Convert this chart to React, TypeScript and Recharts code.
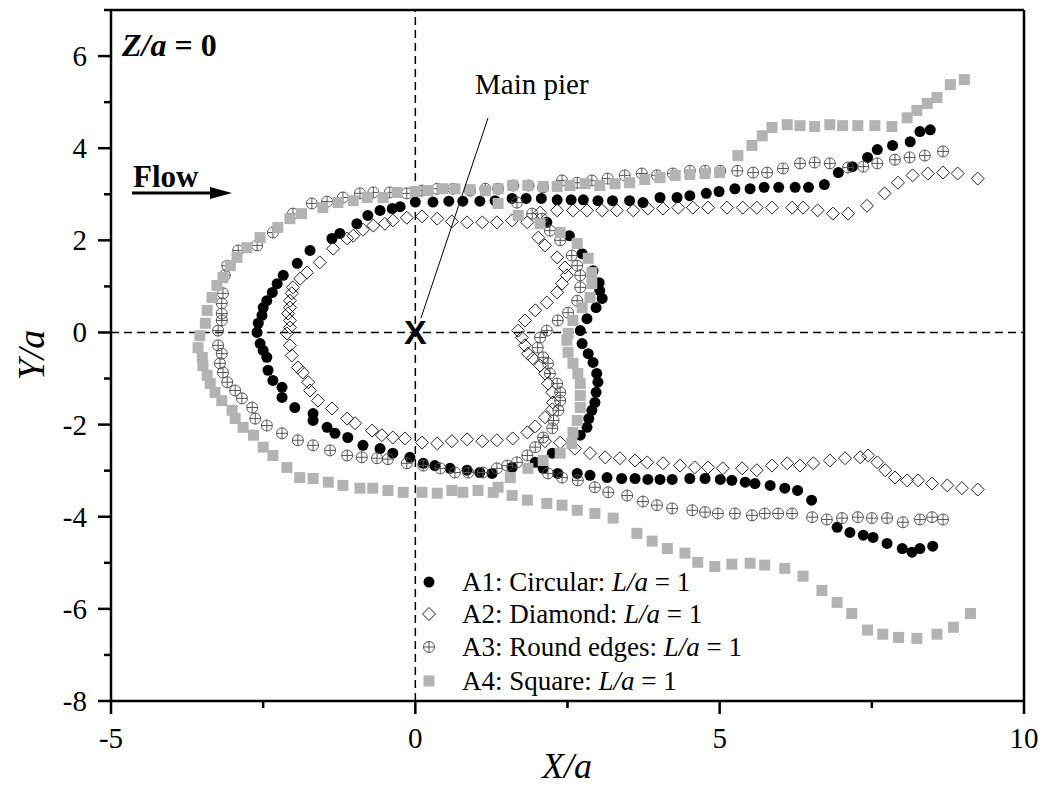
import { ScatterChart, Scatter, XAxis, YAxis, ReferenceLine, ReferenceDot } from "recharts"

const serif = "'Liberation Serif', 'Times New Roman', serif"

const xTicks = [-5, -2.5, 0, 2.5, 5, 7.5, 10]
const xLabels = [-5, 0, 5, 10]
const yTicks = [-8, -7, -6, -5, -4, -3, -2, -1, 0, 1, 2, 3, 4, 5, 6, 7]
const yLabels = [-8, -6, -4, -2, 0, 2, 4, 6]

const legendNames = ["A1: Circular: ", "A2: Diamond: ", "A3: Round edges: ", "A4: Square: "]

// A1 circular pier
const circular: [number, number][] = [
  [-2.6, 0], [-2.58, 0.2], [-2.52, 0.37], [-2.5, 0.54], [-2.44, 0.69], [-2.35, 0.87], [-2.27, 1.06],
  [-2.17, 1.24], [-1.94, 1.5], [-1.73, 1.78], [-1.37, 2.04], [-1.24, 2.15], [-0.96, 2.36], [-0.78, 2.54],
  [-0.58, 2.65], [-0.38, 2.69], [-0.25, 2.73], [0, 2.83], [0.29, 2.83], [0.55, 2.85], [0.78, 2.85],
  [1.06, 2.85], [1.31, 2.86], [1.59, 2.91], [1.82, 2.91], [2.07, 2.91], [2.33, 2.88], [2.56, 2.88],
  [2.76, 2.88], [3.0, 2.86], [3.24, 2.86], [3.52, 2.86], [3.74, 2.82], [4.02, 2.93], [4.3, 2.93],
  [4.51, 2.97], [4.78, 3.02], [4.99, 3.06], [5.25, 3.12], [5.5, 3.12], [5.73, 3.15], [5.97, 3.15],
  [6.24, 3.15], [6.46, 3.15], [6.72, 3.21], [6.95, 3.47], [7.18, 3.6], [7.43, 3.8], [7.59, 3.97],
  [7.84, 4.06], [8.13, 4.14], [8.29, 4.36], [8.46, 4.4],
  [2.16, 2.39], [2.53, 2.1], [2.74, 1.71], [2.92, 1.34], [3.02, 1.08], [3.03, 0.91], [3.07, 0.74],
  [2.97, 0.54], [2.82, 0.3], [2.71, 0.04], [2.74, -0.24], [2.84, -0.46], [2.92, -0.65], [2.98, -0.89],
  [3.0, -1.08], [2.97, -1.3], [2.95, -1.52], [2.9, -1.69], [2.85, -1.87], [2.82, -2.06], [2.71, -2.23],
  [2.25, -2.62], [1.97, -2.82],
  [-2.55, -0.24], [-2.5, -0.39], [-2.44, -0.54], [-2.42, -0.82], [-2.34, -1.04], [-2.19, -1.19],
  [-2.19, -1.41], [-1.98, -1.63], [-1.68, -1.76], [-1.68, -1.91], [-1.45, -2.06], [-1.32, -2.19],
  [-1.11, -2.28], [-0.86, -2.45], [-0.58, -2.52], [-0.37, -2.62], [-0.09, -2.71], [0.13, -2.84],
  [0.32, -2.89], [0.57, -2.95], [0.85, -2.99], [1.06, -3.04], [1.26, -3.06], [1.59, -2.93],
  [2.1, -2.95], [2.34, -3.06], [2.66, -3.06], [2.87, -3.1], [3.15, -3.15], [3.39, -3.17], [3.61, -3.17],
  [3.82, -3.19], [4.02, -3.19], [4.22, -3.19], [4.51, -3.17], [4.76, -3.17], [5.01, -3.19], [5.2, -3.21],
  [5.42, -3.25], [5.58, -3.28], [5.83, -3.32], [6.07, -3.38], [6.28, -3.43], [6.51, -3.64], [6.93, -4.23],
  [7.14, -4.34], [7.36, -4.4], [7.52, -4.45], [7.75, -4.58], [8.0, -4.69], [8.16, -4.77], [8.29, -4.69],
  [8.5, -4.64],
]

// A2 diamond pier
const diamond: [number, number][] = [
  [-2.11, -0.02], [-2.06, 0.11], [-2.06, 0.26], [-2.09, 0.41], [-2.06, 0.54], [-2.06, 0.69], [-2.03, 0.85],
  [-2.01, 0.98], [-1.89, 1.17], [-1.78, 1.3], [-1.57, 1.52], [-1.35, 1.82], [-1.12, 2.04], [-1.02, 2.1],
  [-0.86, 2.23], [-0.69, 2.32], [-0.5, 2.36], [-0.37, 2.43], [-0.14, 2.49], [0.11, 2.52], [0.36, 2.47],
  [0.6, 2.41], [0.85, 2.39], [1.1, 2.39], [1.34, 2.39], [1.59, 2.43],
  [1.84, 2.39], [2.02, 2.06], [2.13, 1.89], [2.33, 1.63], [2.46, 1.41], [2.49, 1.24], [2.41, 1.06],
  [2.33, 0.87], [2.16, 0.65], [1.97, 0.48], [1.8, 0.26], [1.69, 0.04], [1.75, -0.11], [1.8, -0.28],
  [1.85, -0.46], [1.93, -0.56], [2.05, -0.72], [2.13, -0.89], [2.18, -1.11], [2.25, -1.3], [2.26, -1.52],
  [2.25, -1.67], [2.13, -1.84], [1.97, -2.04], [1.84, -2.17], [1.6, -2.3],
  [1.34, -2.34], [1.1, -2.36], [0.85, -2.32], [0.6, -2.36], [0.36, -2.41], [0.11, -2.39], [-0.17, -2.3],
  [-0.37, -2.28], [-0.55, -2.23], [-0.71, -2.13], [-0.99, -1.97], [-1.12, -1.87], [-1.37, -1.65],
  [-1.6, -1.48], [-1.73, -1.26], [-1.76, -1.08], [-1.85, -0.87], [-1.93, -0.76], [-2.03, -0.5], [-2.06, -0.28],
  [2.05, 2.6], [2.33, 2.65], [2.59, 2.65], [2.82, 2.65], [3.07, 2.65], [3.31, 2.65], [3.58, 2.65],
  [3.82, 2.69], [4.07, 2.69], [4.32, 2.71], [4.56, 2.71], [4.81, 2.71], [5.12, 2.71], [5.38, 2.71],
  [5.61, 2.71], [5.86, 2.71], [6.19, 2.71], [6.37, 2.71], [6.61, 2.65], [6.86, 2.58], [7.11, 2.58],
  [7.42, 2.75], [7.71, 3.02], [7.93, 3.25], [8.17, 3.41], [8.42, 3.45], [8.67, 3.47], [8.91, 3.45],
  [9.24, 3.34],
  [2.13, -2.36], [2.38, -2.39], [2.62, -2.52], [2.87, -2.62], [3.12, -2.71], [3.36, -2.73], [3.61, -2.78],
  [3.81, -2.82], [4.07, -2.84], [4.35, -2.89], [4.59, -2.93], [4.81, -2.93], [5.05, -2.95], [5.37, -2.95],
  [5.61, -2.99], [5.86, -2.89], [6.11, -2.84], [6.32, -2.89], [6.54, -2.84], [6.81, -2.78], [7.06, -2.73],
  [7.31, -2.71], [7.44, -2.67], [7.59, -2.82], [7.72, -2.99], [7.88, -3.15], [8.08, -3.21], [8.26, -3.21],
  [8.49, -3.28], [8.74, -3.32], [8.98, -3.38], [9.24, -3.41],
]

// A3 round-edged pier
const roundEdges: [number, number][] = [
  [-3.24, 0.04], [-3.18, 0.26], [-3.18, 0.41], [-3.18, 0.63], [-3.16, 0.85], [-3.13, 1.24], [-3.09, 1.45],
  [-2.91, 1.78], [-2.6, 1.89], [-2.34, 2.17], [-2.01, 2.58], [-1.7, 2.8], [-1.45, 2.84], [-1.19, 2.93],
  [-0.91, 3.02], [-0.69, 3.04], [-0.42, 3.04], [-0.14, 3.02], [0.11, 3.08], [0.36, 3.12], [0.62, 3.12],
  [0.9, 3.08], [1.15, 3.12], [1.36, 3.12], [1.61, 3.19], [1.86, 3.19], [2.1, 3.15], [2.41, 3.3],
  [2.66, 3.25], [2.9, 3.3], [3.16, 3.34], [3.44, 3.41], [3.72, 3.45], [3.97, 3.41], [4.23, 3.45],
  [4.51, 3.51], [4.76, 3.51], [5.01, 3.51], [5.29, 3.51], [5.55, 3.47], [5.78, 3.47], [6.04, 3.56],
  [6.32, 3.67], [6.56, 3.69], [6.81, 3.67], [7.11, 3.58], [7.36, 3.6], [7.59, 3.67], [7.88, 3.75],
  [8.12, 3.8], [8.37, 3.84], [8.67, 3.93],
  [1.67, 2.82], [1.92, 2.58], [2.08, 2.47], [2.21, 2.21], [2.38, 2.0], [2.57, 1.67], [2.66, 1.45],
  [2.71, 1.24], [2.71, 0.98], [2.66, 0.69], [2.51, 0.43], [2.34, 0.26], [2.16, 0.04], [2.05, -0.11],
  [2.01, -0.33], [2.1, -0.54], [2.18, -0.67], [2.21, -0.89], [2.33, -1.11], [2.38, -1.3], [2.38, -1.48],
  [2.35, -1.69], [2.27, -1.91], [2.25, -2.08], [2.1, -2.28], [1.97, -2.49], [1.84, -2.67], [1.67, -2.82],
  [1.51, -2.89], [1.34, -2.95],
  [-3.24, -0.28], [-3.18, -0.46], [-3.21, -0.67], [-3.16, -0.87], [-3.09, -1.08], [-2.96, -1.26],
  [-2.85, -1.43], [-2.68, -1.63], [-2.63, -1.87], [-2.44, -2.02], [-2.19, -2.19], [-1.93, -2.34],
  [-1.68, -2.45], [-1.4, -2.56], [-1.12, -2.67], [-0.88, -2.71], [-0.63, -2.73], [-0.45, -2.75],
  [-0.14, -2.84], [0.13, -2.89], [0.41, -2.95], [0.65, -3.04], [0.87, -3.04], [1.11, -3.04],
  [2.18, -3.06], [2.41, -3.15], [2.67, -3.21], [2.95, -3.36], [3.17, -3.47], [3.48, -3.54], [3.74, -3.67],
  [3.97, -3.75], [4.22, -3.82], [4.55, -3.86], [4.76, -3.9], [4.97, -3.93], [5.25, -3.93], [5.53, -3.97],
  [5.74, -3.93], [5.96, -3.93], [6.19, -3.93], [6.52, -4.01], [6.76, -4.06], [7.01, -4.03], [7.27, -4.01],
  [7.5, -4.03], [7.75, -4.03], [8.01, -4.12], [8.29, -4.06], [8.49, -4.01], [8.67, -4.06],
]

// A4 square pier
const square: [number, number][] = [
  [-3.54, -0.07], [-3.45, 0.2], [-3.42, 0.48], [-3.34, 0.76], [-3.26, 1.02], [-3.16, 1.19], [-3.04, 1.45],
  [-2.93, 1.63], [-2.77, 1.84], [-2.55, 2.06], [-2.26, 2.28], [-2.06, 2.47], [-1.87, 2.58], [-1.52, 2.71],
  [-1.27, 2.82], [-1.02, 2.86], [-0.79, 2.93], [-0.53, 2.93], [-0.3, 3.04], [0, 3.06], [0.21, 3.08],
  [0.45, 3.12], [0.65, 3.12], [0.9, 3.1], [1.15, 3.08], [1.36, 3.12],
  [1.6, 3.19], [1.85, 3.19], [2.1, 3.17], [2.33, 3.17], [2.54, 3.19], [2.79, 3.23], [3.03, 3.19],
  [3.28, 3.23], [3.52, 3.25], [3.77, 3.32], [4.02, 3.36], [4.27, 3.41], [4.51, 3.43], [4.76, 3.45],
  [5.0, 3.47], [5.3, 3.84], [5.53, 4.06], [5.7, 4.27], [5.86, 4.45], [6.11, 4.51], [6.32, 4.49],
  [6.56, 4.47], [6.81, 4.51], [7.02, 4.49], [7.27, 4.49], [7.55, 4.49], [7.83, 4.47], [8.08, 4.66],
  [8.24, 4.82], [8.41, 4.97], [8.57, 5.1], [8.79, 5.38], [9.02, 5.49],
  [1.36, 2.8], [1.69, 2.54], [2.05, 2.36], [2.38, 2.17], [2.66, 1.93], [2.84, 1.61], [2.9, 1.3],
  [2.9, 1.06], [2.87, 0.76], [2.74, 0.54], [2.59, 0.26], [2.51, -0.02], [2.49, -0.17], [2.51, -0.43],
  [2.59, -0.67], [2.67, -0.89], [2.71, -1.11], [2.71, -1.37], [2.71, -1.63], [2.66, -1.91], [2.59, -2.17],
  [2.57, -2.41], [2.38, -2.62], [2.1, -2.78], [1.85, -2.95], [1.56, -3.15], [1.36, -3.36],
  [-3.57, -0.33], [-3.5, -0.54], [-3.49, -0.72], [-3.42, -0.93], [-3.37, -1.11], [-3.29, -1.3],
  [-3.18, -1.48], [-3.01, -1.69], [-2.96, -1.87], [-2.83, -2.06], [-2.66, -2.23], [-2.5, -2.49],
  [-2.34, -2.67], [-2.11, -2.93], [-1.9, -3.15], [-1.68, -3.17], [-1.43, -3.25], [-1.19, -3.32],
  [-0.91, -3.38], [-0.7, -3.38], [-0.45, -3.43], [-0.2, -3.47], [0.11, -3.47], [0.36, -3.49], [0.6, -3.43],
  [0.78, -3.47], [1.03, -3.43], [1.28, -3.47],
  [1.59, -3.54], [1.84, -3.64], [2.16, -3.71], [2.41, -3.75], [2.66, -3.86], [2.95, -3.93], [3.25, -4.03],
  [3.64, -4.36], [3.89, -4.53], [4.14, -4.69], [4.43, -4.79], [4.64, -4.99], [4.92, -5.08], [5.2, -5.03],
  [5.5, -5.01], [5.74, -5.05], [6.07, -5.12], [6.37, -5.29], [6.68, -5.6], [6.93, -5.86], [7.17, -6.1],
  [7.43, -6.46], [7.68, -6.55], [7.94, -6.62], [8.24, -6.64], [8.57, -6.55], [8.84, -6.4], [9.12, -6.1],
]

const toPoints = (pts: [number, number][]) => pts.map(([x, y]) => ({ x, y }))

function DotMark({ cx, cy }: any) {
  return <circle cx={cx} cy={cy} r={5.5} fill="#000" />
}

function DiamondMark({ cx, cy }: any) {
  const s = 6.5
  return (
    <path
      d={`M${cx},${cy - s}L${cx + s},${cy}L${cx},${cy + s}L${cx - s},${cy}Z`}
      fill="none"
      stroke="#222"
      strokeWidth={1}
    />
  )
}

function CrossMark({ cx, cy }: any) {
  const r = 5.5
  return (
    <g stroke="#555" strokeWidth={1} fill="none">
      <circle cx={cx} cy={cy} r={r} />
      <line x1={cx - r} x2={cx + r} y1={cy} y2={cy} />
      <line x1={cx} x2={cx} y1={cy - r} y2={cy + r} />
    </g>
  )
}

function SquareMark({ cx, cy }: any) {
  return <rect x={cx - 5.5} y={cy - 5.5} width={11} height={11} fill="#b3b3b3" />
}

const markers = [DotMark, DiamondMark, CrossMark, SquareMark]

const tickText = { fontFamily: serif, fontSize: 29, fill: "#000" }

function XTick({ x, y, payload }: any) {
  const major = xLabels.includes(payload.value)
  return (
    <g>
      <line x1={x} x2={x} y1={y} y2={y + (major ? 13 : 7)} stroke="#000" strokeWidth={2.5} />
      {major && (
        <text x={x} y={y + 47} textAnchor="middle" style={tickText}>
          {payload.value}
        </text>
      )}
    </g>
  )
}

function YTick({ x, y, payload }: any) {
  const major = yLabels.includes(payload.value)
  return (
    <g>
      <line x1={x - (major ? 13 : 7)} x2={x} y1={y} y2={y} stroke="#000" strokeWidth={2.5} />
      {major && (
        <text x={x - 24} y={y + 10} textAnchor="end" style={tickText}>
          {payload.value}
        </text>
      )}
    </g>
  )
}

function PierMark({ cx, cy }: any) {
  return (
    <text
      x={cx}
      y={cy + 12}
      textAnchor="middle"
      style={{ fontSize: 34, fontWeight: "bold", fontFamily: "'Liberation Sans', Arial, sans-serif", fill: "#000" }}
    >
      X
    </text>
  )
}

export default function App() {
  const legendRows = [582, 614, 647, 681]
  return (
    <div style={{ position: "absolute", left: 0, top: 0, width: 1046, height: 790, background: "#fff" }}>
      <ScatterChart width={1046} height={790} margin={{ top: 10, right: 22, left: 51, bottom: 49 }}>
        <XAxis
          type="number"
          dataKey="x"
          domain={[-5, 10]}
          allowDataOverflow
          ticks={xTicks}
          interval={0}
          tick={<XTick />}
          tickLine={false}
          tickSize={0}
          tickMargin={0}
          height={40}
          axisLine={{ stroke: "#000", strokeWidth: 2.5 }}
        />
        <YAxis
          type="number"
          dataKey="y"
          domain={[-8, 7]}
          allowDataOverflow
          ticks={yTicks}
          interval={0}
          tick={<YTick />}
          tickLine={false}
          tickSize={0}
          tickMargin={0}
          width={60}
          axisLine={{ stroke: "#000", strokeWidth: 2.5 }}
        />
        <ReferenceLine y={7} stroke="#000" strokeWidth={2.5} />
        <ReferenceLine x={10} stroke="#000" strokeWidth={2.5} />
        <ReferenceLine x={0} stroke="#000" strokeWidth={1.5} strokeDasharray="8 5" />
        <ReferenceLine y={0} stroke="#000" strokeWidth={1.5} strokeDasharray="8 5" />
        <Scatter data={toPoints(circular)} shape={DotMark} isAnimationActive={false} />
        <Scatter data={toPoints(diamond)} shape={DiamondMark} isAnimationActive={false} />
        <Scatter data={toPoints(roundEdges)} shape={CrossMark} isAnimationActive={false} />
        <Scatter data={toPoints(square)} shape={SquareMark} isAnimationActive={false} />
        <ReferenceDot x={0} y={0} r={1} shape={PierMark} />
      </ScatterChart>
      <svg
        width={1046}
        height={790}
        style={{ position: "absolute", left: 0, top: 0, pointerEvents: "none", fontFamily: serif }}
      >
        <text x={122} y={56} style={{ fontSize: 32, fontWeight: "bold", fill: "#000" }}>
          <tspan style={{ fontStyle: "italic" }}>Z/a</tspan> = 0
        </text>
        <text x={133} y={187} style={{ fontSize: 31, fontWeight: "bold", fill: "#000" }}>
          Flow
        </text>
        <line x1={132} x2={214} y1={193} y2={193} stroke="#000" strokeWidth={3} />
        <polygon points="210,187 232,193 210,199" fill="#000" />
        <text x={475} y={94} style={{ fontSize: 29, fill: "#000" }}>
          Main pier
        </text>
        <line x1={488} y1={118} x2={421} y2={318} stroke="#000" strokeWidth={1} />
        <text x={567} y={778} textAnchor="middle" style={{ fontSize: 36, fontStyle: "italic", fill: "#000" }}>
          X/a
        </text>
        <text
          x={0}
          y={0}
          textAnchor="middle"
          transform="translate(44,355) rotate(-90)"
          style={{ fontSize: 38, fontStyle: "italic", fill: "#000" }}
        >
          Y/a
        </text>
        {legendNames.map((name, i) => {
          const Mark = markers[i]
          const y = legendRows[i]
          return (
            <g key={name}>
              <Mark cx={429} cy={y} />
              <text x={462} y={y + 9} style={{ fontSize: 27, fill: "#000" }}>
                {name}
                <tspan style={{ fontStyle: "italic" }}>L/a</tspan> = 1
              </text>
            </g>
          )
        })}
      </svg>
    </div>
  )
}
